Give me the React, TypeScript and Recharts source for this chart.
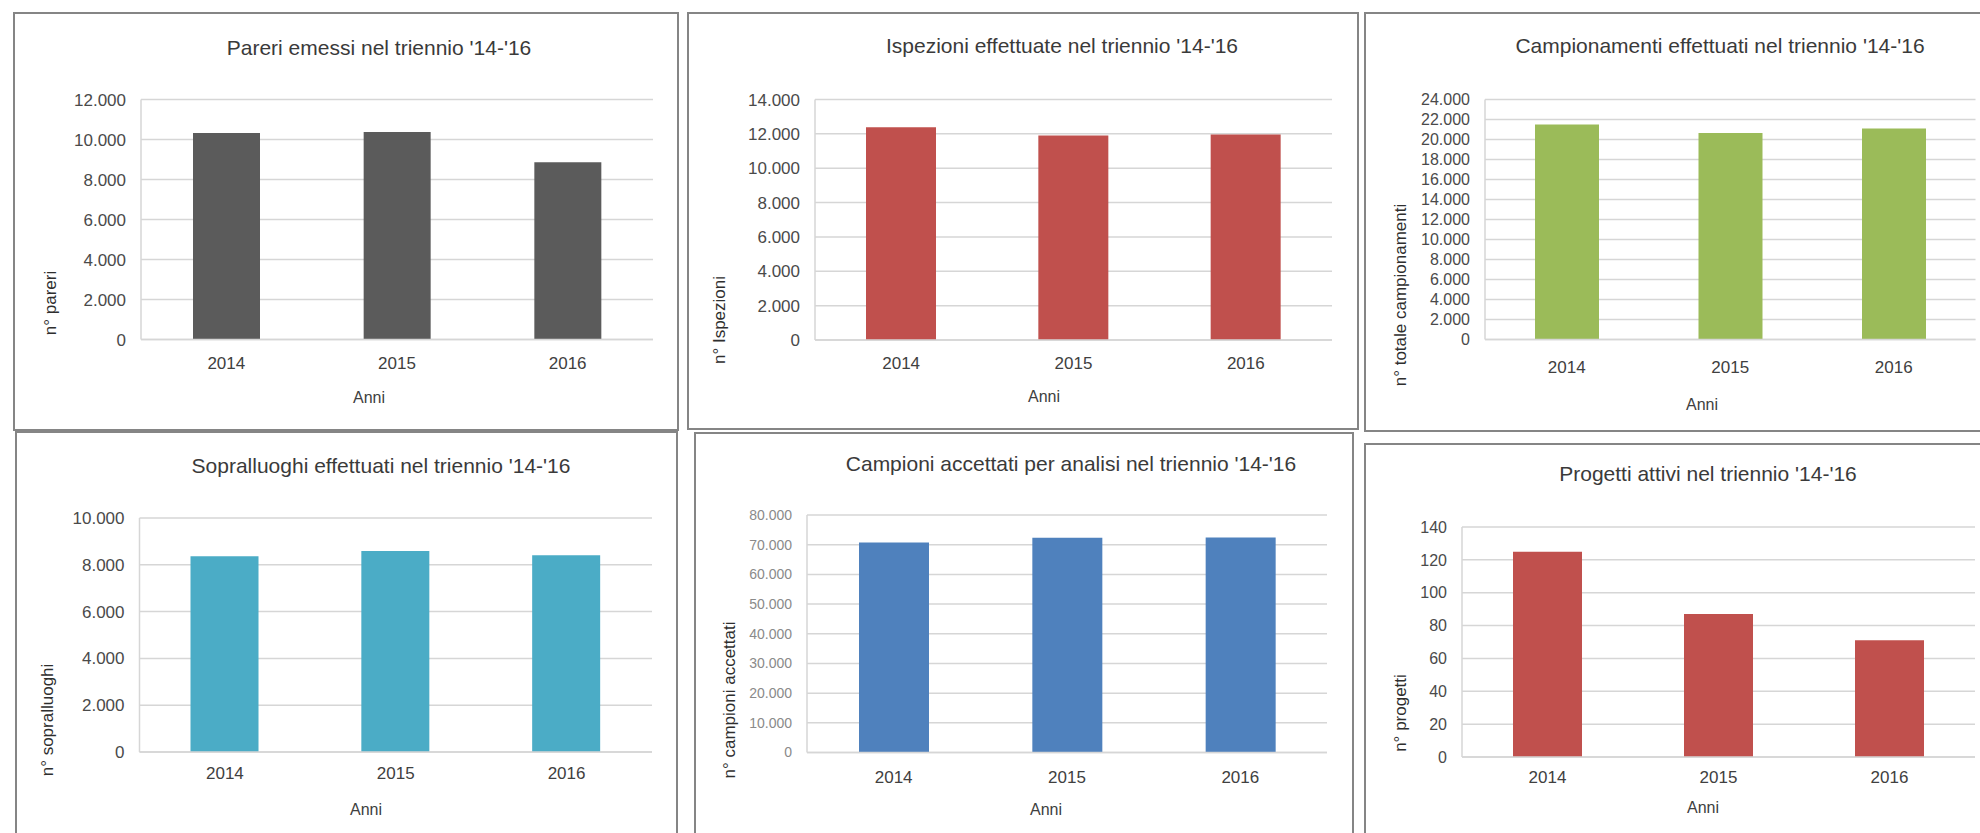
import React from "react";
import { Bar, BarChart, CartesianGrid, XAxis, YAxis } from "recharts";

const years = ["2014", "2015", "2016"];

const pareri = [10330, 10380, 8860];
const ispezioni = [12390, 11910, 11960];
const campionamenti = [21500, 20660, 21100];
const sopralluoghi = [8370, 8590, 8410];
const campioniAccettati = [70700, 72350, 72400];
const progetti = [125, 87, 71];

const ticksPareri = [0, 2000, 4000, 6000, 8000, 10000, 12000];
const ticksIspezioni = [0, 2000, 4000, 6000, 8000, 10000, 12000, 14000];
const ticksCampionamenti = [
  0, 2000, 4000, 6000, 8000, 10000, 12000, 14000, 16000, 18000, 20000, 22000, 24000
];
const ticksSopralluoghi = [0, 2000, 4000, 6000, 8000, 10000];
const ticksCampioni = [0, 10000, 20000, 30000, 40000, 50000, 60000, 70000, 80000];
const ticksProgetti = [0, 20, 40, 60, 80, 100, 120, 140];

const FONT = '"Liberation Sans", Arial, sans-serif';
const YAXIS_W = 60;
const XAXIS_H = 40;
const GRID = "#d6d6d6";

// italian thousands separator: 12.000
const fmt = (v: number) =>
  v >= 1000 ? `${Math.floor(v / 1000)}.${String(v % 1000).padStart(3, "0")}` : `${v}`;

interface Box {
  x: number;
  y: number;
  w: number;
  h: number;
}

interface Plot {
  x0: number;
  x1: number;
  y0: number;
  y1: number;
}

interface PanelProps {
  title: string;
  yLabel: string;
  values: number[];
  ticks: number[];
  color: string;
  barSize: number;
  box: Box;
  plot: Plot;
  titleAt: [number, number];
  yLabelAt: [number, number];
  xLabelAt: [number, number];
  xTickMargin: number;
  yTickFont?: number;
  yTickColor?: string;
  rightLine?: boolean;
}

function TextAt({
  at,
  size,
  color,
  rotate,
  children
}: {
  at: [number, number];
  size: number;
  color: string;
  rotate?: boolean;
  children: React.ReactNode;
}) {
  return (
    <div
      style={{
        position: "absolute",
        left: at[0],
        top: at[1],
        transform: `translate(-50%, -50%)${rotate ? " rotate(-90deg)" : ""}`,
        whiteSpace: "nowrap",
        fontFamily: FONT,
        fontSize: size,
        lineHeight: 1,
        color
      }}
    >
      {children}
    </div>
  );
}

function Panel(props: PanelProps) {
  const { box, plot } = props;
  const data = years.map((year, i) => ({ year, value: props.values[i] }));
  const max = props.ticks[props.ticks.length - 1];

  return (
    <>
      <div
        style={{
          position: "absolute",
          left: box.x,
          top: box.y,
          width: box.w,
          height: box.h,
          boxSizing: "border-box",
          border: "2px solid #858585",
          background: "#fff"
        }}
      />
      <div style={{ position: "absolute", left: box.x, top: box.y }}>
        <BarChart
          width={box.w}
          height={box.h}
          data={data}
          margin={{
            top: plot.y0 - box.y,
            right: box.x + box.w - plot.x1,
            bottom: box.y + box.h - plot.y1 - XAXIS_H,
            left: plot.x0 - box.x - YAXIS_W
          }}
        >
          <CartesianGrid vertical={false} stroke={GRID} strokeWidth={1.5} />
          <XAxis
            dataKey="year"
            height={XAXIS_H}
            tickSize={0}
            tickMargin={props.xTickMargin}
            axisLine={{ stroke: GRID, strokeWidth: 1.5 }}
            tickLine={false}
            tick={{ fill: "#404040", fontSize: 17, fontFamily: FONT }}
          />
          <YAxis
            width={YAXIS_W}
            domain={[0, max]}
            ticks={props.ticks}
            interval={0}
            tickFormatter={fmt}
            tickSize={0}
            tickMargin={15}
            axisLine={{ stroke: GRID, strokeWidth: 1.5 }}
            tickLine={false}
            tick={{
              fill: props.yTickColor ?? "#4a4a4a",
              fontSize: props.yTickFont ?? 17,
              fontFamily: FONT
            }}
          />
          {props.rightLine && (
            <YAxis
              yAxisId="r"
              orientation="right"
              width={0}
              tick={false}
              tickLine={false}
              axisLine={{ stroke: GRID, strokeWidth: 1.5 }}
            />
          )}
          <Bar dataKey="value" fill={props.color} barSize={props.barSize} isAnimationActive={false} />
        </BarChart>
      </div>
      <TextAt at={props.titleAt} size={21} color="#3a3a3a">
        {props.title}
      </TextAt>
      <TextAt at={props.yLabelAt} size={17} color="#2e2e2e" rotate>
        {props.yLabel}
      </TextAt>
      <TextAt at={props.xLabelAt} size={16} color="#404040">
        Anni
      </TextAt>
    </>
  );
}

export default function App() {
  return (
    <div
      style={{
        position: "absolute",
        left: 0,
        top: 0,
        width: 1980,
        height: 833,
        overflow: "hidden",
        background: "#fff"
      }}
    >
      <Panel
        title="Pareri emessi nel triennio '14-'16"
        yLabel="n° pareri"
        values={pareri}
        ticks={ticksPareri}
        color="#5b5b5b"
        barSize={67}
        box={{ x: 13, y: 12, w: 666, h: 419 }}
        plot={{ x0: 141, x1: 653, y0: 99.5, y1: 339.5 }}
        titleAt={[379, 47]}
        yLabelAt={[50, 303]}
        xLabelAt={[369, 398]}
        xTickMargin={17.5}
      />
      <Panel
        title="Ispezioni effettuate nel triennio '14-'16"
        yLabel="n° Ispezioni"
        values={ispezioni}
        ticks={ticksIspezioni}
        color="#c0504d"
        barSize={70}
        box={{ x: 687, y: 12, w: 672, h: 418 }}
        plot={{ x0: 815, x1: 1332, y0: 99.5, y1: 340 }}
        titleAt={[1062, 45]}
        yLabelAt={[719, 320]}
        xLabelAt={[1044, 397]}
        xTickMargin={17}
        rightLine
      />
      <Panel
        title="Campionamenti effettuati nel triennio '14-'16"
        yLabel="n° totale campionamenti"
        values={campionamenti}
        ticks={ticksCampionamenti}
        color="#9bbb59"
        barSize={64}
        box={{ x: 1364, y: 12, w: 640, h: 420 }}
        plot={{ x0: 1485, x1: 1975.5, y0: 99.5, y1: 339.5 }}
        titleAt={[1720, 45]}
        yLabelAt={[1400, 295]}
        xLabelAt={[1702, 405]}
        xTickMargin={21}
        yTickFont={16}
      />
      <Panel
        title="Sopralluoghi effettuati nel triennio '14-'16"
        yLabel="n° sopralluoghi"
        values={sopralluoghi}
        ticks={ticksSopralluoghi}
        color="#4bacc6"
        barSize={68}
        box={{ x: 15, y: 431, w: 663, h: 420 }}
        plot={{ x0: 139.5, x1: 652, y0: 518, y1: 752 }}
        titleAt={[381, 465]}
        yLabelAt={[47, 720]}
        xLabelAt={[366, 810]}
        xTickMargin={15}
      />
      <Panel
        title="Campioni accettati per analisi nel triennio '14-'16"
        yLabel="n° campioni accettati"
        values={campioniAccettati}
        ticks={ticksCampioni}
        color="#4f81bd"
        barSize={70}
        box={{ x: 694, y: 432, w: 660, h: 420 }}
        plot={{ x0: 807, x1: 1327, y0: 515, y1: 752.5 }}
        titleAt={[1071, 463]}
        yLabelAt={[729, 700]}
        xLabelAt={[1046, 810]}
        xTickMargin={18.5}
        yTickFont={14}
        yTickColor="#8a8a8a"
      />
      <Panel
        title="Progetti attivi nel triennio '14-'16"
        yLabel="n° progetti"
        values={progetti}
        ticks={ticksProgetti}
        color="#c0504d"
        barSize={69}
        box={{ x: 1364, y: 443, w: 640, h: 420 }}
        plot={{ x0: 1462, x1: 1975, y0: 527, y1: 757 }}
        titleAt={[1708, 473]}
        yLabelAt={[1400, 713]}
        xLabelAt={[1703, 808]}
        xTickMargin={14}
        yTickFont={16}
      />
    </div>
  );
}
